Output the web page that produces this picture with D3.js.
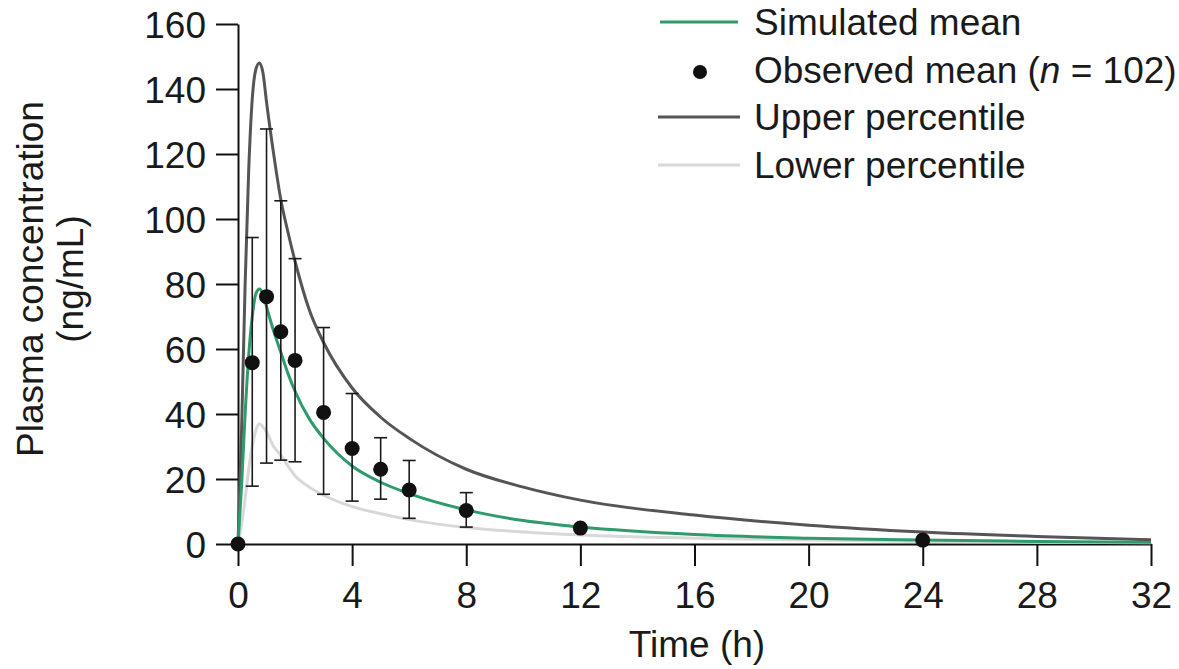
<!DOCTYPE html>
<html>
<head>
<meta charset="utf-8">
<script src="https://cdn.jsdelivr.net/npm/d3@7/dist/d3.min.js"></script>
<style>
  html, body { margin: 0; padding: 0; background: #fff; }
  svg { display: block; }
  text { font-family: "Liberation Sans", Arial, sans-serif; fill: #1a1a1a; }
</style>
</head>
<body>
<svg id="chart" width="1179" height="669"></svg>
<script>
// ---------- DATA ----------
const simTimes = [0, 0.125, 0.25, 0.375, 0.5, 0.625, 0.75, 0.875, 1, 1.25, 1.5, 1.75, 2, 2.5, 3, 4, 5, 6, 8, 10, 12, 16, 20, 24, 28, 32];
const simulatedMean = [0, 18, 40, 58, 70, 77, 78.5, 77, 73, 65.5, 59, 52.5, 47, 38.5, 32.5, 24, 19, 15.5, 10.5, 7.2, 5.2, 2.9, 1.8, 1.2, 0.8, 0.5];
const upperPercentile = [0, 35, 80, 115, 137, 146, 148, 145, 136, 120, 106, 96, 87, 72, 62, 48, 39, 32.5, 23, 17.5, 13.5, 8.9, 5.8, 3.7, 2.3, 1.3];
const lowerPercentile = [0, 6, 14, 23, 30, 35, 37, 36, 34.5, 30, 27.3, 24, 21, 17.5, 15, 11.5, 9.3, 7.5, 5.1, 3.7, 2.8, 1.8, 1.2, 0.8, 0.55, 0.4];

const obsTimes = [0, 0.5, 1, 1.5, 2, 3, 4, 5, 6, 8, 12, 24];
const obsMean  = [0, 55.8, 76.1, 65.3, 56.5, 40.5, 29.4, 23.0, 16.6, 10.3, 4.9, 1.2];
const obsUpper = [null, 94.3, 127.7, 105.6, 87.8, 66.6, 46.3, 32.7, 25.7, 15.8, null, null];
const obsLower = [null, 17.8, 24.9, 25.8, 25.3, 15.3, 13.2, 13.8, 7.9, 5.2, null, null];

const xTicks = [0, 4, 8, 12, 16, 20, 24, 28, 32];
const yTicks = [0, 20, 40, 60, 80, 100, 120, 140, 160];

const legendLabels = ["Simulated mean", "Observed mean", "Upper percentile", "Lower percentile"];

// ---------- LAYOUT ----------
const svg = d3.select("#chart");
const x = d3.scaleLinear().domain([0, 32]).range([238, 1151]);
const y = d3.scaleLinear().domain([0, 160]).range([544, 24]);

const colGreen = "#2f9a6b", colUpper = "#555555", colLower = "#d8d8d8";
const fontSize = 37;

// Axes
const xAxis = d3.axisBottom(x).tickValues(xTicks).tickSize(22).tickSizeOuter(0).tickPadding(15).tickFormat(d3.format("d"));
const yAxis = d3.axisLeft(y).tickValues(yTicks).tickSize(22).tickSizeOuter(0).tickPadding(10).tickFormat(d3.format("d"));

const gx = svg.append("g").attr("transform", `translate(0,${y(0)})`).call(xAxis);
const gy = svg.append("g").attr("transform", `translate(${x(0)},0)`).call(yAxis);
[gx, gy].forEach(g => {
  g.selectAll("path.domain").attr("stroke", "#111").attr("stroke-width", 2);
  g.selectAll(".tick line").attr("stroke", "#111").attr("stroke-width", 2);
  g.selectAll(".tick text").attr("font-size", fontSize).attr("fill", "#1a1a1a")
    .attr("font-family", '"Liberation Sans", Arial, sans-serif');
});
gx.selectAll(".tick text").attr("dy", "0.72em");
gy.selectAll(".tick text").attr("dy", "0.36em");

// Axis titles
svg.append("text").attr("x", 697).attr("y", 657).attr("text-anchor", "middle")
  .attr("font-size", fontSize).text("Time (h)");
svg.append("text").attr("transform", "translate(43,279) rotate(-90)").attr("text-anchor", "middle")
  .attr("font-size", fontSize).text("Plasma concentration");
svg.append("text").attr("transform", "translate(83,279) rotate(-90)").attr("text-anchor", "middle")
  .attr("font-size", fontSize).text("(ng/mL)");

// Curves
const line = d3.line().x(d => x(d[0])).y(d => y(d[1])).curve(d3.curveMonotoneX);
const mk = arr => simTimes.map((t, i) => [t, arr[i]]);
svg.append("path").datum(mk(lowerPercentile)).attr("d", line)
  .attr("fill", "none").attr("stroke", colLower).attr("stroke-width", 3);
svg.append("path").datum(mk(upperPercentile)).attr("d", line)
  .attr("fill", "none").attr("stroke", colUpper).attr("stroke-width", 3);
svg.append("path").datum(mk(simulatedMean)).attr("d", line)
  .attr("fill", "none").attr("stroke", colGreen).attr("stroke-width", 3);

// Error bars
const obs = obsTimes.map((t, i) => ({ t, m: obsMean[i], lo: obsLower[i], hi: obsUpper[i] }));
const eb = svg.append("g").attr("stroke", "#1a1a1a").attr("stroke-width", 1.6);
obs.filter(d => d.hi !== null).forEach(d => {
  eb.append("line").attr("x1", x(d.t)).attr("x2", x(d.t)).attr("y1", y(d.lo)).attr("y2", y(d.hi));
  eb.append("line").attr("x1", x(d.t) - 6.5).attr("x2", x(d.t) + 6.5).attr("y1", y(d.hi)).attr("y2", y(d.hi));
  eb.append("line").attr("x1", x(d.t) - 6.5).attr("x2", x(d.t) + 6.5).attr("y1", y(d.lo)).attr("y2", y(d.lo));
});

// Points
svg.append("g").selectAll("circle").data(obs).join("circle")
  .attr("cx", d => x(d.t)).attr("cy", d => y(d.m)).attr("r", 7.5).attr("fill", "#111");

// Legend
const leg = svg.append("g");
const rowsY = [22, 70, 117, 165];
leg.append("line").attr("x1", 660).attr("x2", 738).attr("y1", rowsY[0]).attr("y2", rowsY[0])
  .attr("stroke", colGreen).attr("stroke-width", 3);
leg.append("circle").attr("cx", 700).attr("cy", rowsY[1] + 2).attr("r", 7).attr("fill", "#111");
leg.append("line").attr("x1", 658).attr("x2", 740).attr("y1", rowsY[2]).attr("y2", rowsY[2])
  .attr("stroke", colUpper).attr("stroke-width", 3);
leg.append("line").attr("x1", 658).attr("x2", 740).attr("y1", rowsY[3]).attr("y2", rowsY[3])
  .attr("stroke", colLower).attr("stroke-width", 3);

legendLabels.forEach((lab, i) => {
  const t = leg.append("text").attr("x", 754).attr("y", rowsY[i] + 13).attr("font-size", fontSize);
  if (i === 1) {
    t.append("tspan").text(lab + " (");
    t.append("tspan").attr("font-style", "italic").text("n");
    t.append("tspan").text(" = 102)");
  } else {
    t.text(lab);
  }
});
</script>
</body>
</html>
